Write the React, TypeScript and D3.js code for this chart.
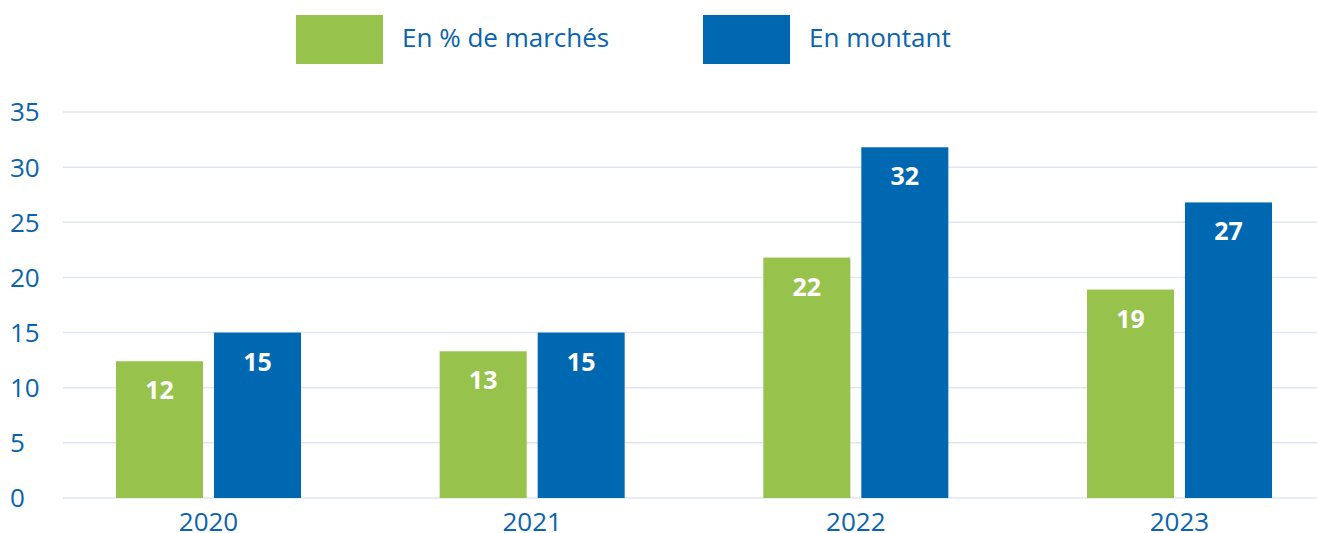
import React from "react";
import * as d3 from "d3";

const years = ["2020", "2021", "2022", "2023"];
const pctMarches = [12.4, 13.3, 21.8, 18.9];
const montant = [15.0, 15.0, 31.8, 26.8];
const yTicks = [0, 5, 10, 15, 20, 25, 30, 35];
const seriesNames = ["En % de marchés", "En montant"];
const seriesColors = ["#97c24b", "#0067b1"];

const W = 1317;
const H = 533;
const FONT = "'Open Sans', 'DejaVu Sans', sans-serif";
const TEXT_BLUE = "#0a63ae";

export default function App() {
  const y = d3.scaleLinear().domain([0, 35]).range([498, 112]);
  const x = d3.scaleBand<string>().domain(years).range([46.67, 1341.33]).padding(0);
  const sub = d3
    .scaleBand<number>()
    .domain([0, 1])
    .range([0, 185])
    .paddingInner(0.1122)
    .paddingOuter(0);
  const series = [pctMarches, montant];

  return (
    <svg
      width={W}
      height={H}
      style={{ position: "absolute", left: 0, top: 0, background: "#fff" }}
      fontFamily={FONT}
    >
      {yTicks.map((t) => (
        <line
          key={t}
          x1={63}
          x2={W}
          y1={y(t)}
          y2={y(t)}
          stroke="#dfe6f2"
          strokeWidth={1.5}
        />
      ))}
      {yTicks.map((t) => (
        <text
          key={"l" + t}
          x={10}
          y={y(t)}
          dy="0.36em"
          fontSize={26}
          fill={TEXT_BLUE}
        >
          {t}
        </text>
      ))}
      {years.map((yr, i) => {
        const cx = (x(yr) as number) + x.bandwidth() / 2;
        const gx = cx - 92.5;
        return (
          <g key={yr}>
            {series.map((s, si) => {
              const bx = gx + (sub(si) as number);
              const bw = sub.bandwidth();
              const v = s[i];
              return (
                <g key={si}>
                  <rect
                    x={bx}
                    y={y(v)}
                    width={bw}
                    height={y(0) - y(v)}
                    fill={seriesColors[si]}
                  />
                  <text
                    x={bx + bw / 2}
                    y={y(v) + 29}
                    dy="0.36em"
                    textAnchor="middle"
                    fontSize={25}
                    fontWeight={700}
                    fill="#fff"
                  >
                    {Math.round(v)}
                  </text>
                </g>
              );
            })}
            <text
              x={cx}
              y={530.5}
              textAnchor="middle"
              fontSize={26}
              fill={TEXT_BLUE}
            >
              {yr}
            </text>
          </g>
        );
      })}
      {seriesNames.map((n, i) => {
        const lx = [296, 703][i];
        return (
          <g key={n}>
            <rect x={lx} y={15} width={87} height={49} fill={seriesColors[i]} />
            <text
              x={lx + 106}
              y={38}
              dy="0.36em"
              fontSize={26}
              fill={TEXT_BLUE}
            >
              {n}
            </text>
          </g>
        );
      })}
    </svg>
  );
}
